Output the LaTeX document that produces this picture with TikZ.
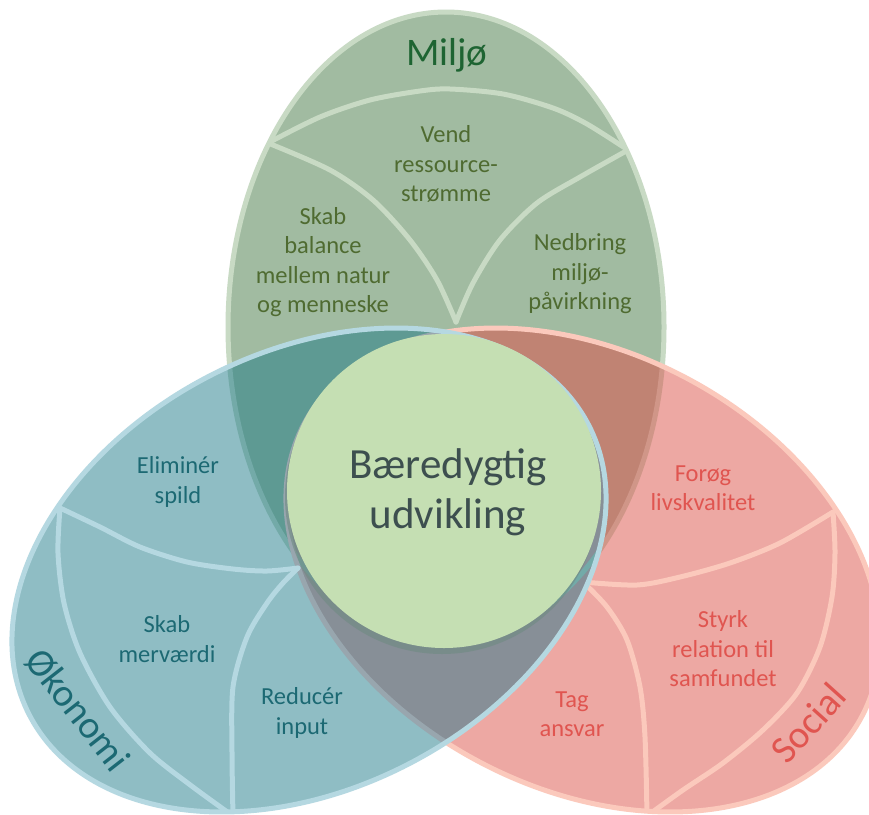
\documentclass[tikz,border=0pt]{standalone}
\usepackage{fontspec}
\setmainfont{Carlito}
\definecolor{gfill}{HTML}{A1BBA1}
\definecolor{gline}{HTML}{C8DAC4}
\definecolor{bfill}{HTML}{8FBDC4}
\definecolor{bline}{HTML}{B5D8E1}
\definecolor{rfill}{HTML}{EDA8A3}
\definecolor{rline}{HTML}{FBC9BC}
\definecolor{gbfill}{HTML}{5E9A93}
\definecolor{grfill}{HTML}{C08373}
\definecolor{brfill}{HTML}{878F97}
\definecolor{gbline}{HTML}{73AAA8}
\definecolor{grline}{HTML}{D09688}
\definecolor{brline}{HTML}{98A6AE}
\definecolor{cfill}{HTML}{C5DFB3}
\definecolor{cshadow}{HTML}{6F8A82}
\definecolor{gtext}{HTML}{4F6B31}
\definecolor{gtitle}{HTML}{1E6432}
\definecolor{btext}{HTML}{1C6973}
\definecolor{rtext}{HTML}{E05550}
\definecolor{ctext}{HTML}{3D4F4F}
\newcommand\GreenE{\pgfpathellipse{\pgfqpoint{446pt}{-327pt}}{\pgfqpoint{218pt}{0pt}}{\pgfqpoint{0pt}{315pt}}}
\newcommand\BlueE{\pgfpathellipse{\pgfqpoint{309pt}{-570pt}}{\pgfqpoint{279.4pt}{145.4pt}}{\pgfqpoint{-100.7pt}{193.4pt}}}
\newcommand\RedE{\pgfpathellipse{\pgfqpoint{583pt}{-570pt}}{\pgfqpoint{279.4pt}{-145.4pt}}{\pgfqpoint{100.7pt}{193.4pt}}}
\newcommand\FillWith[1]{\pgfsetfillcolor{#1}\pgfusepath{fill}}
\newcommand\StrokeWith[1]{\pgfsetstrokecolor{#1}\pgfsetlinewidth{5pt}\pgfusepath{stroke}}
\begin{document}
\begin{tikzpicture}[x=1pt,y=-1pt,
  divider/.style={line width=5pt,line cap=round,line join=round},
  smalltxt/.style={font=\fontsize{24.5}{29.5}\selectfont,align=center,inner sep=0pt},
  titletxt/.style={font=\fontsize{39}{46}\selectfont,inner sep=0pt},
  gtxt/.style={smalltxt,text=gtext},
  btxt/.style={smalltxt,text=btext},
  rtxt/.style={smalltxt,text=rtext}]
\useasboundingbox (0,0) rectangle (869,814);
\clip (0,0) rectangle (869,814);
\fill[white] (0,0) rectangle (869,814);
% green ellipse
\begin{scope}\GreenE\FillWith{gfill}\end{scope}
\begin{scope}\GreenE\StrokeWith{gline}\end{scope}
\begin{scope}
  \GreenE\pgfusepath{clip}
  \draw[divider,gline] plot[smooth] coordinates {(268,143) (320,117) (370,100) (420,91) (450,89) (503,94) (553,108) (587,124) (628,150)};
  \draw[divider,gline] plot[smooth] coordinates {(268,143) (330,170) (373,200) (410,240) (437,280) (456,322)};
  \draw[divider,gline] plot[smooth] coordinates {(628,150) (580,177) (537,203) (500,240) (473,283) (456,322)};
\end{scope}
% red ellipse
\begin{scope}\RedE\FillWith{rfill}\end{scope}
\begin{scope}
  \RedE\pgfusepath{clip}
  \GreenE\FillWith{grfill}
  \GreenE\StrokeWith{grline}
\end{scope}
\begin{scope}\RedE\StrokeWith{rline}\end{scope}
\begin{scope}
  \RedE\pgfusepath{clip}
  \draw[divider,rline] plot[smooth] coordinates {(833,512) (835,553) (832,597) (820,647) (797,693) (763,730) (723,763) (683,790) (647,816)};
  \draw[divider,rline] plot[smooth] coordinates {(833,512) (780,543) (730,563) (680,577) (637,585) (583,582)};
  \draw[divider,rline] plot[smooth] coordinates {(583,582) (607,607) (627,640) (640,687) (645,737) (647,816)};
\end{scope}
% blue ellipse
\begin{scope}\BlueE\FillWith{bfill}\end{scope}
\begin{scope}
  \BlueE\pgfusepath{clip}
  \GreenE\FillWith{gbfill}
  \RedE\FillWith{brfill}
  \GreenE\StrokeWith{gbline}
  \RedE\StrokeWith{brline}
\end{scope}
\begin{scope}\BlueE\StrokeWith{bline}\end{scope}
\begin{scope}
  \BlueE\pgfusepath{clip}
  \draw[divider,bline] plot[smooth] coordinates {(60,508) (58,553) (64,603) (80,653) (110,707) (150,753) (193,787) (233,816)};
  \draw[divider,bline] plot[smooth] coordinates {(60,508) (100,527) (140,547) (187,562) (233,569) (267,571) (298,568)};
  \draw[divider,bline] plot[smooth] coordinates {(233,816) (232,753) (233,687) (247,637) (267,603) (283,583) (298,568)};
\end{scope}
% centre circle
\fill[cshadow,opacity=0.6] (442,497) circle (157);
\node[circle,fill=cfill,minimum size=314pt,inner sep=0pt] (core) at (444,491) {};
\node[font=\fontsize{43}{50}\selectfont,text=ctext,align=center,inner sep=0pt] (coretxt) at (448,492) {Bæredygtig\\udvikling};
% titles
\node[titletxt,text=gtitle,anchor=base] (miljo) at (447,65) {Miljø};
\node[titletxt,text=btext,rotate=-52] (okonomi) at (78,710) {Økonomi};
\node[titletxt,text=rtext,rotate=48] (social) at (808,723) {Social};
% green texts
\node[gtxt] (vend) at (446,164) {Vend\\ressource-\\strømme};
\node[gtxt] (skab1) at (323,262) {Skab\\balance\\mellem natur\\og menneske};
\node[gtxt] (nedbring) at (580,274) {Nedbring\\miljø-\\påvirkning};
% blue texts
\node[btxt] (elim) at (178,482) {Eliminér\\spild};
\node[btxt] (skab2) at (167,639) {Skab\\merværdi};
\node[btxt] (reducer) at (302,713) {Reducér\\input};
% red texts
\node[rtxt] (forog) at (703,488) {Forøg\\livskvalitet};
\node[rtxt] (styrk) at (723,649) {Styrk\\relation til\\samfundet};
\node[rtxt] (tag) at (572,714) {Tag\\ansvar};
\end{tikzpicture}
\end{document}
